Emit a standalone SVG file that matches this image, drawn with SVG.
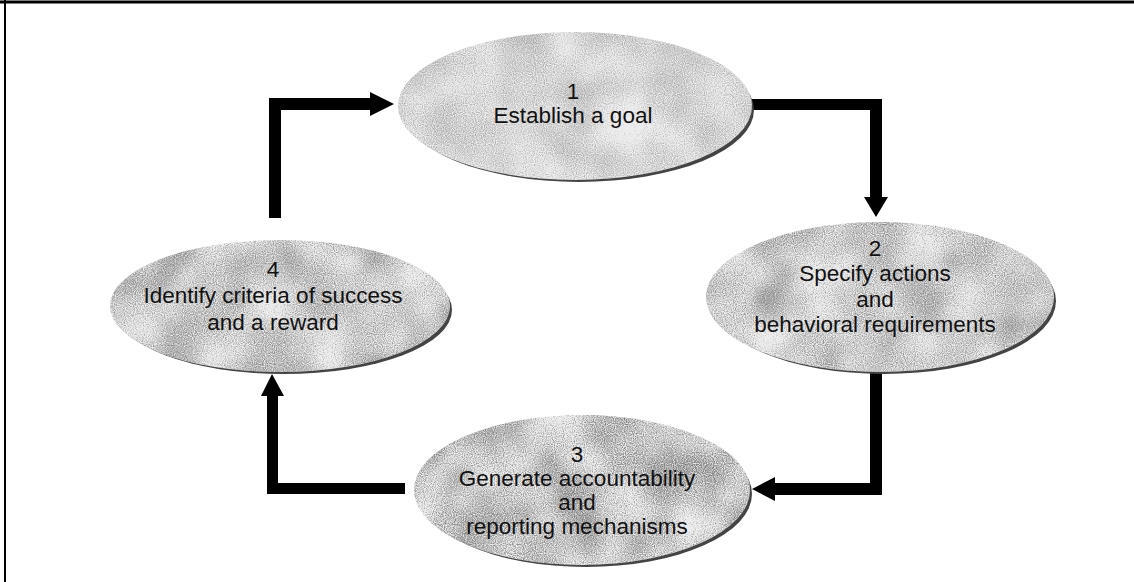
<svg xmlns="http://www.w3.org/2000/svg" width="1134" height="582" viewBox="0 0 1134 582">
<style>
.lbl{font-family:"Liberation Sans",Arial,sans-serif;font-size:22.5px;fill:#111;text-anchor:middle}
.base{fill:#ececec}
.rim{fill:#444}
.grain{fill:#000;filter:url(#grain)}
.arrow{fill:#000}
</style>
<defs>
<filter id="grain" x="-5%" y="-5%" width="110%" height="110%" color-interpolation-filters="sRGB">
<feTurbulence type="fractalNoise" baseFrequency="0.9" numOctaves="1" seed="4" result="fine"/>
<feTurbulence type="fractalNoise" baseFrequency="0.02" numOctaves="2" seed="9" result="coarse"/>
<feComposite in="fine" in2="coarse" operator="arithmetic" k1="0" k2="0.65" k3="0.35" k4="0" result="mix"/>
<feColorMatrix in="mix" type="matrix" values="0 0 0 0 0.5  0 0 0 0 0.5  0 0 0 0 0.5  3.2 0 0 0 -1.25" result="dots"/>
<feComposite in="dots" in2="SourceGraphic" operator="in"/>
</filter>
</defs>
<rect width="1134" height="582" fill="#fff"/>
<g id="frame">
<line x1="0" y1="2" x2="1134" y2="2" stroke="#000" stroke-width="3"/>
<line x1="5" y1="0" x2="5" y2="582" stroke="#000" stroke-width="2"/>
</g>
<g id="connectors">
<polygon class="arrow" points="269,218 269,98 370,98 370,92 394,104 370,116 370,110 281,110 281,218"/>
<polygon class="arrow" points="740,99 882,99 882,197 888,197 876,217 864,197 870,197 870,110 740,110"/>
<polygon class="arrow" points="870,360 882,360 882,495 775,495 775,501 752,489 775,477 775,483 870,483"/>
<polygon class="arrow" points="405,483 405,494 267,494 267,396 261,396 272,374 284,396 278,396 278,483"/>
</g>
<g id="node1">
<ellipse class="rim" cx="579" cy="110" rx="175" ry="72"/>
<ellipse class="base" cx="575" cy="106" rx="177" ry="74"/>
<ellipse class="grain" cx="575" cy="106" rx="177" ry="74" opacity="0.6"/>
<text class="lbl" x="573" y="99">1</text>
<text class="lbl" x="573" y="123">Establish a goal</text>
</g>
<g id="node2">
<ellipse class="rim" cx="884" cy="301" rx="172" ry="73"/>
<ellipse class="base" cx="880" cy="297" rx="174" ry="75"/>
<ellipse class="grain" cx="880" cy="297" rx="174" ry="75" opacity="0.85"/>
<text class="lbl" x="875" y="256">2</text>
<text class="lbl" x="875" y="281">Specify actions</text>
<text class="lbl" x="875" y="307">and</text>
<text class="lbl" x="875" y="332">behavioral requirements</text>
</g>
<g id="node4">
<ellipse class="rim" cx="284" cy="310" rx="168" ry="64"/>
<ellipse class="base" cx="280" cy="306" rx="170" ry="66"/>
<ellipse class="grain" cx="280" cy="306" rx="170" ry="66" opacity="0.85"/>
<text class="lbl" x="273" y="277">4</text>
<text class="lbl" x="273" y="303">Identify criteria of success</text>
<text class="lbl" x="273" y="330">and a reward</text>
</g>
<g id="node3">
<ellipse class="rim" cx="586" cy="494" rx="166" ry="73"/>
<ellipse class="base" cx="582" cy="490" rx="168" ry="75"/>
<ellipse class="grain" cx="582" cy="490" rx="168" ry="75"/>
<text class="lbl" x="577" y="462">3</text>
<text class="lbl" x="577" y="486">Generate accountability</text>
<text class="lbl" x="577" y="510">and</text>
<text class="lbl" x="577" y="534">reporting mechanisms</text>
</g>
</svg>
